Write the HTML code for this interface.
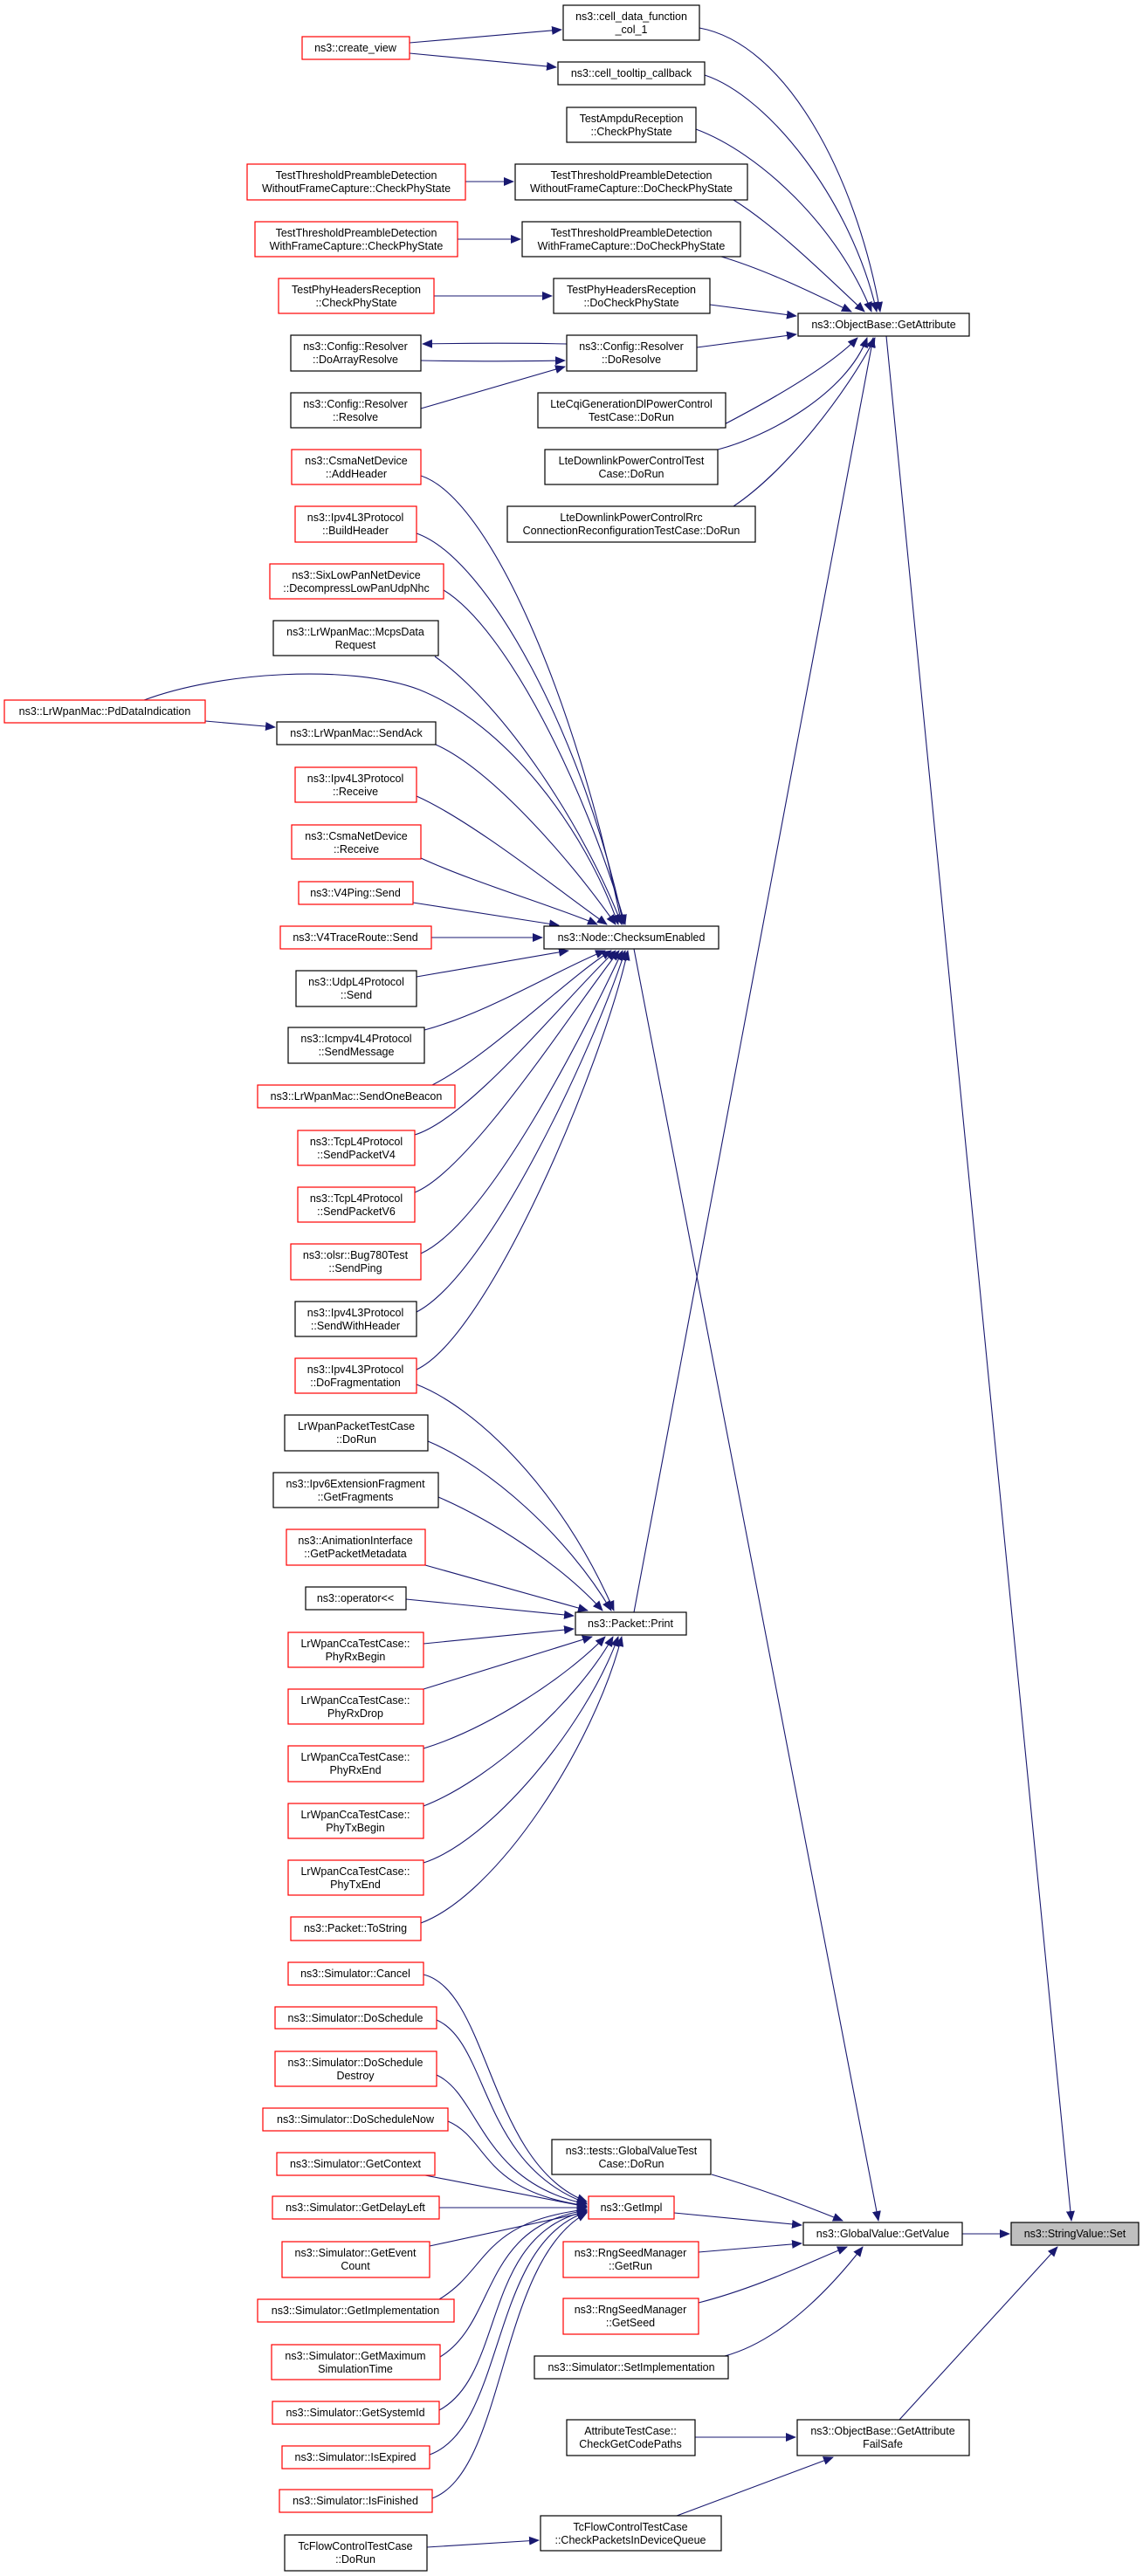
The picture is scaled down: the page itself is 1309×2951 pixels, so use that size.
<!DOCTYPE html>
<html><head><meta charset="utf-8"><style>
html,body{margin:0;padding:0;background:#fff}
svg{display:block}
text{font-family:"Liberation Sans",sans-serif;font-size:12.5px;fill:#000;text-anchor:middle}
.b rect{fill:#fff;stroke:#000;stroke-width:1.2}
.r rect{fill:#fff;stroke:#ff0000;stroke-width:1.2}
.e path{fill:none;stroke:#191970;stroke-width:1.1;marker-end:url(#a)}
</style></head><body>
<svg width="1309" height="2951" viewBox="0 0 1309 2951" xmlns="http://www.w3.org/2000/svg">
<defs><marker id="a" markerWidth="12" markerHeight="10" refX="11" refY="5" orient="auto" markerUnits="userSpaceOnUse"><path d="M0,0 L12,5 L0,10z" fill="#191970"/></marker></defs>
<g class="e">
<path d="M801,32 C900,50 980,200 1008,357"/>
<path d="M807,86 C880,110 975,230 1004,357"/>
<path d="M797,148 C870,175 960,260 998,357"/>
<path d="M840,229 C890,260 950,320 990,357"/>
<path d="M826,294 C880,310 940,340 975,357"/>
<path d="M813,349 L912,362"/>
<path d="M798,398 L912,383"/>
<path d="M822,490 C880,460 950,420 982,387"/>
<path d="M822,515 C880,500 970,450 993,387"/>
<path d="M840,580 C900,540 970,450 1002,387"/>
<path d="M726,1847 L1000,387"/>
<path d="M1015,385 L1227,2544"/>
<path d="M726,1087 L1006,2544"/>
<path d="M649,394 C600,393 540,393 484,394"/>
<path d="M482,413 C540,414 600,414 647,413"/>
<path d="M482,468 L647,420"/>
<path d="M469,49 L643,34"/>
<path d="M469,61 L637,77"/>
<path d="M533,208 L588,208"/>
<path d="M524,274 L596,274"/>
<path d="M497,339 L632,339"/>
<path d="M235,826 L315,833"/>
<path d="M482,545 C560,570 660,800 712,1059"/>
<path d="M477,611 C560,640 670,850 714,1059"/>
<path d="M508,676 C580,720 670,900 716,1059"/>
<path d="M498,752 C580,810 670,950 712,1059"/>
<path d="M165,802 C250,770 400,760 480,790 C580,830 670,950 708,1059"/>
<path d="M499,853 C560,880 650,980 705,1059"/>
<path d="M477,912 C540,940 640,1020 695,1059"/>
<path d="M482,983 C540,1010 640,1040 684,1059"/>
<path d="M473,1034 L640,1060"/>
<path d="M494,1074 L621,1074"/>
<path d="M477,1119 L651,1089"/>
<path d="M486,1180 C560,1160 640,1110 693,1089"/>
<path d="M495,1243 C560,1210 650,1120 700,1089"/>
<path d="M475,1300 C540,1280 650,1140 705,1089"/>
<path d="M475,1366 C540,1340 660,1150 709,1089"/>
<path d="M482,1436 C560,1400 670,1180 713,1089"/>
<path d="M477,1503 C560,1460 680,1200 716,1089"/>
<path d="M477,1569 C560,1530 690,1220 719,1089"/>
<path d="M477,1586 C540,1610 640,1700 703,1845"/>
<path d="M490,1651 C560,1680 650,1760 700,1845"/>
<path d="M502,1715 C560,1740 640,1790 690,1845"/>
<path d="M487,1793 L673,1845"/>
<path d="M465,1832 L657,1851"/>
<path d="M485,1883 L657,1866"/>
<path d="M485,1935 L678,1875"/>
<path d="M485,2003 C560,1980 650,1920 693,1875"/>
<path d="M485,2069 C560,2040 660,1950 702,1875"/>
<path d="M485,2134 C560,2110 670,1980 708,1875"/>
<path d="M482,2203 C570,2170 680,2000 712,1875"/>
<path d="M485,2262 C560,2280 560,2480 672,2522"/>
<path d="M500,2314 C560,2340 550,2480 672,2524"/>
<path d="M500,2377 C550,2400 550,2500 672,2525"/>
<path d="M513,2430 C560,2450 550,2510 672,2527"/>
<path d="M487,2492 L672,2528"/>
<path d="M503,2529 L672,2529"/>
<path d="M492,2573 L672,2534"/>
<path d="M503,2634 C560,2600 550,2545 672,2531"/>
<path d="M504,2700 C570,2660 550,2550 672,2532"/>
<path d="M503,2761 C580,2720 550,2560 672,2533"/>
<path d="M492,2812 C580,2780 560,2570 672,2534"/>
<path d="M495,2862 C580,2830 570,2590 672,2535"/>
<path d="M772,2535 L918,2549"/>
<path d="M815,2491 C880,2510 930,2530 965,2544"/>
<path d="M800,2580 L918,2570"/>
<path d="M800,2638 C870,2620 930,2590 970,2574"/>
<path d="M830,2699 C900,2680 960,2610 988,2574"/>
<path d="M1102,2559 L1156,2559"/>
<path d="M1030,2772 L1211,2574"/>
<path d="M796,2792 L911,2792"/>
<path d="M775,2882 L954,2815"/>
<path d="M489,2918 L617,2910"/>
</g>

<g class="b"><rect x="645" y="6" width="156" height="40"/><text x="723" y="23">ns3::cell_data_function</text><text x="723" y="38">_col_1</text></g>
<g class="r"><rect x="346" y="42" width="123" height="26"/><text x="407" y="59">ns3::create_view</text></g>
<g class="b"><rect x="639" y="71" width="168" height="26"/><text x="723" y="88">ns3::cell_tooltip_callback</text></g>
<g class="b"><rect x="649" y="123" width="148" height="40"/><text x="723" y="140">TestAmpduReception</text><text x="723" y="155">::CheckPhyState</text></g>
<g class="r"><rect x="283" y="188" width="250" height="41"/><text x="408" y="205">TestThresholdPreambleDetection</text><text x="408" y="220">WithoutFrameCapture::CheckPhyState</text></g>
<g class="b"><rect x="590" y="188" width="266" height="41"/><text x="723" y="205">TestThresholdPreambleDetection</text><text x="723" y="220">WithoutFrameCapture::DoCheckPhyState</text></g>
<g class="r"><rect x="292" y="254" width="232" height="40"/><text x="408" y="271">TestThresholdPreambleDetection</text><text x="408" y="286">WithFrameCapture::CheckPhyState</text></g>
<g class="b"><rect x="598" y="254" width="250" height="40"/><text x="723" y="271">TestThresholdPreambleDetection</text><text x="723" y="286">WithFrameCapture::DoCheckPhyState</text></g>
<g class="r"><rect x="319" y="319" width="178" height="40"/><text x="408" y="336">TestPhyHeadersReception</text><text x="408" y="351">::CheckPhyState</text></g>
<g class="b"><rect x="634" y="319" width="179" height="40"/><text x="723" y="336">TestPhyHeadersReception</text><text x="723" y="351">::DoCheckPhyState</text></g>
<g class="b"><rect x="914" y="359" width="196" height="26"/><text x="1012" y="376">ns3::ObjectBase::GetAttribute</text></g>
<g class="b"><rect x="333" y="384" width="149" height="41"/><text x="407" y="401">ns3::Config::Resolver</text><text x="407" y="416">::DoArrayResolve</text></g>
<g class="b"><rect x="649" y="384" width="149" height="41"/><text x="723" y="401">ns3::Config::Resolver</text><text x="723" y="416">::DoResolve</text></g>
<g class="b"><rect x="333" y="450" width="149" height="40"/><text x="407" y="467">ns3::Config::Resolver</text><text x="407" y="482">::Resolve</text></g>
<g class="b"><rect x="616" y="450" width="215" height="40"/><text x="723" y="467">LteCqiGenerationDlPowerControl</text><text x="723" y="482">TestCase::DoRun</text></g>
<g class="r"><rect x="334" y="515" width="148" height="40"/><text x="408" y="532">ns3::CsmaNetDevice</text><text x="408" y="547">::AddHeader</text></g>
<g class="b"><rect x="624" y="515" width="198" height="40"/><text x="723" y="532">LteDownlinkPowerControlTest</text><text x="723" y="547">Case::DoRun</text></g>
<g class="r"><rect x="338" y="580" width="139" height="41"/><text x="407" y="597">ns3::Ipv4L3Protocol</text><text x="407" y="612">::BuildHeader</text></g>
<g class="b"><rect x="581" y="580" width="284" height="41"/><text x="723" y="597">LteDownlinkPowerControlRrc</text><text x="723" y="612">ConnectionReconfigurationTestCase::DoRun</text></g>
<g class="r"><rect x="309" y="646" width="199" height="40"/><text x="408" y="663">ns3::SixLowPanNetDevice</text><text x="408" y="678">::DecompressLowPanUdpNhc</text></g>
<g class="b"><rect x="313" y="711" width="189" height="40"/><text x="407" y="728">ns3::LrWpanMac::McpsData</text><text x="407" y="743">Request</text></g>
<g class="r"><rect x="5" y="802" width="230" height="26"/><text x="120" y="819">ns3::LrWpanMac::PdDataIndication</text></g>
<g class="b"><rect x="317" y="827" width="182" height="26"/><text x="408" y="844">ns3::LrWpanMac::SendAck</text></g>
<g class="r"><rect x="338" y="879" width="139" height="40"/><text x="407" y="896">ns3::Ipv4L3Protocol</text><text x="407" y="911">::Receive</text></g>
<g class="r"><rect x="334" y="945" width="148" height="39"/><text x="408" y="962">ns3::CsmaNetDevice</text><text x="408" y="977">::Receive</text></g>
<g class="r"><rect x="342" y="1010" width="131" height="26"/><text x="407" y="1027">ns3::V4Ping::Send</text></g>
<g class="r"><rect x="321" y="1061" width="173" height="26"/><text x="407" y="1078">ns3::V4TraceRoute::Send</text></g>
<g class="b"><rect x="623" y="1061" width="200" height="26"/><text x="723" y="1078">ns3::Node::ChecksumEnabled</text></g>
<g class="b"><rect x="339" y="1112" width="138" height="41"/><text x="408" y="1129">ns3::UdpL4Protocol</text><text x="408" y="1144">::Send</text></g>
<g class="b"><rect x="330" y="1177" width="156" height="41"/><text x="408" y="1194">ns3::Icmpv4L4Protocol</text><text x="408" y="1209">::SendMessage</text></g>
<g class="r"><rect x="295" y="1243" width="226" height="26"/><text x="408" y="1260">ns3::LrWpanMac::SendOneBeacon</text></g>
<g class="r"><rect x="341" y="1295" width="134" height="40"/><text x="408" y="1312">ns3::TcpL4Protocol</text><text x="408" y="1327">::SendPacketV4</text></g>
<g class="r"><rect x="341" y="1360" width="134" height="40"/><text x="408" y="1377">ns3::TcpL4Protocol</text><text x="408" y="1392">::SendPacketV6</text></g>
<g class="r"><rect x="333" y="1425" width="149" height="41"/><text x="407" y="1442">ns3::olsr::Bug780Test</text><text x="407" y="1457">::SendPing</text></g>
<g class="b"><rect x="338" y="1491" width="139" height="40"/><text x="407" y="1508">ns3::Ipv4L3Protocol</text><text x="407" y="1523">::SendWithHeader</text></g>
<g class="r"><rect x="338" y="1556" width="139" height="40"/><text x="407" y="1573">ns3::Ipv4L3Protocol</text><text x="407" y="1588">::DoFragmentation</text></g>
<g class="b"><rect x="326" y="1621" width="164" height="41"/><text x="408" y="1638">LrWpanPacketTestCase</text><text x="408" y="1653">::DoRun</text></g>
<g class="b"><rect x="313" y="1687" width="189" height="40"/><text x="407" y="1704">ns3::Ipv6ExtensionFragment</text><text x="407" y="1719">::GetFragments</text></g>
<g class="r"><rect x="328" y="1752" width="159" height="41"/><text x="407" y="1769">ns3::AnimationInterface</text><text x="407" y="1784">::GetPacketMetadata</text></g>
<g class="b"><rect x="350" y="1818" width="115" height="26"/><text x="407" y="1835">ns3::operator&lt;&lt;</text></g>
<g class="b"><rect x="659" y="1847" width="127" height="26"/><text x="722" y="1864">ns3::Packet::Print</text></g>
<g class="r"><rect x="330" y="1870" width="155" height="40"/><text x="407" y="1887">LrWpanCcaTestCase::</text><text x="407" y="1902">PhyRxBegin</text></g>
<g class="r"><rect x="330" y="1935" width="155" height="40"/><text x="407" y="1952">LrWpanCcaTestCase::</text><text x="407" y="1967">PhyRxDrop</text></g>
<g class="r"><rect x="330" y="2000" width="155" height="41"/><text x="407" y="2017">LrWpanCcaTestCase::</text><text x="407" y="2032">PhyRxEnd</text></g>
<g class="r"><rect x="330" y="2066" width="155" height="40"/><text x="407" y="2083">LrWpanCcaTestCase::</text><text x="407" y="2098">PhyTxBegin</text></g>
<g class="r"><rect x="330" y="2131" width="155" height="40"/><text x="407" y="2148">LrWpanCcaTestCase::</text><text x="407" y="2163">PhyTxEnd</text></g>
<g class="r"><rect x="333" y="2196" width="149" height="27"/><text x="407" y="2213">ns3::Packet::ToString</text></g>
<g class="r"><rect x="330" y="2248" width="155" height="26"/><text x="407" y="2265">ns3::Simulator::Cancel</text></g>
<g class="r"><rect x="315" y="2299" width="185" height="25"/><text x="407" y="2316">ns3::Simulator::DoSchedule</text></g>
<g class="r"><rect x="315" y="2350" width="185" height="40"/><text x="407" y="2367">ns3::Simulator::DoSchedule</text><text x="407" y="2382">Destroy</text></g>
<g class="r"><rect x="301" y="2415" width="212" height="26"/><text x="407" y="2432">ns3::Simulator::DoScheduleNow</text></g>
<g class="r"><rect x="317" y="2466" width="181" height="26"/><text x="407" y="2483">ns3::Simulator::GetContext</text></g>
<g class="b"><rect x="632" y="2451" width="182" height="40"/><text x="723" y="2468">ns3::tests::GlobalValueTest</text><text x="723" y="2483">Case::DoRun</text></g>
<g class="r"><rect x="312" y="2516" width="191" height="26"/><text x="407" y="2533">ns3::Simulator::GetDelayLeft</text></g>
<g class="r"><rect x="674" y="2516" width="98" height="26"/><text x="723" y="2533">ns3::GetImpl</text></g>
<g class="b"><rect x="920" y="2546" width="182" height="26"/><text x="1011" y="2563">ns3::GlobalValue::GetValue</text></g>
<g><rect x="1158" y="2546" width="146" height="26" fill="#bfbfbf" stroke="#000" stroke-width="1.2"/><text x="1231" y="2563">ns3::StringValue::Set</text></g>
<g class="r"><rect x="323" y="2568" width="169" height="41"/><text x="407" y="2585">ns3::Simulator::GetEvent</text><text x="407" y="2600">Count</text></g>
<g class="r"><rect x="645" y="2568" width="155" height="41"/><text x="722" y="2585">ns3::RngSeedManager</text><text x="722" y="2600">::GetRun</text></g>
<g class="r"><rect x="295" y="2634" width="225" height="26"/><text x="407" y="2651">ns3::Simulator::GetImplementation</text></g>
<g class="r"><rect x="645" y="2633" width="155" height="41"/><text x="722" y="2650">ns3::RngSeedManager</text><text x="722" y="2665">::GetSeed</text></g>
<g class="r"><rect x="311" y="2686" width="193" height="40"/><text x="407" y="2703">ns3::Simulator::GetMaximum</text><text x="407" y="2718">SimulationTime</text></g>
<g class="b"><rect x="612" y="2699" width="222" height="26"/><text x="723" y="2716">ns3::Simulator::SetImplementation</text></g>
<g class="r"><rect x="312" y="2751" width="191" height="26"/><text x="407" y="2768">ns3::Simulator::GetSystemId</text></g>
<g class="b"><rect x="649" y="2772" width="147" height="41"/><text x="722" y="2789">AttributeTestCase::</text><text x="722" y="2804">CheckGetCodePaths</text></g>
<g class="b"><rect x="913" y="2772" width="197" height="41"/><text x="1011" y="2789">ns3::ObjectBase::GetAttribute</text><text x="1011" y="2804">FailSafe</text></g>
<g class="r"><rect x="323" y="2802" width="169" height="26"/><text x="407" y="2819">ns3::Simulator::IsExpired</text></g>
<g class="r"><rect x="320" y="2852" width="175" height="26"/><text x="407" y="2869">ns3::Simulator::IsFinished</text></g>
<g class="b"><rect x="619" y="2882" width="207" height="40"/><text x="722" y="2899">TcFlowControlTestCase</text><text x="722" y="2914">::CheckPacketsInDeviceQueue</text></g>
<g class="b"><rect x="326" y="2904" width="163" height="41"/><text x="407" y="2921">TcFlowControlTestCase</text><text x="407" y="2936">::DoRun</text></g>
</svg>
</body></html>
